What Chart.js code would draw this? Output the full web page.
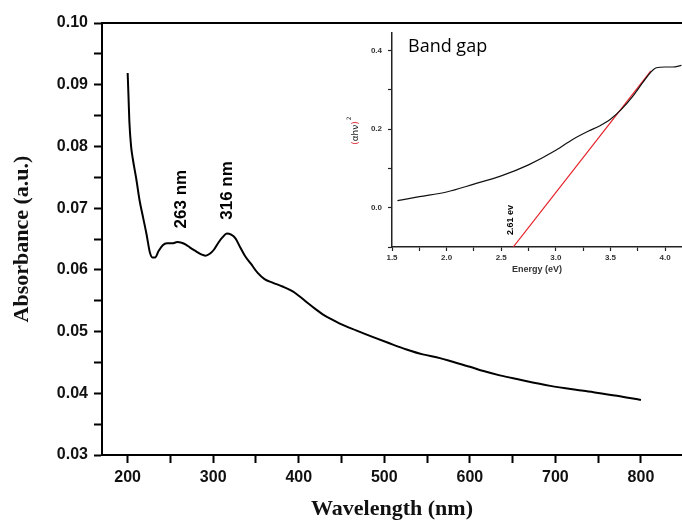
<!DOCTYPE html>
<html>
<head>
<meta charset="utf-8">
<script src="https://cdn.jsdelivr.net/npm/chart.js@4/dist/chart.umd.min.js"></script>
<style>
  html, body { margin: 0; padding: 0; background: #fff; }
  #wrap { position: relative; width: 682px; height: 521px; overflow: hidden; }
  #mainChart { position: absolute; left: 0; top: 0; }
  #insetChart { position: absolute; left: 330px; top: 22px; }
</style>
</head>
<body>
<div id="wrap">
  <canvas id="mainChart" width="682" height="521"></canvas>
  <canvas id="insetChart" width="352" height="258"></canvas>
</div>
<script>
// ── Main spectrum ─────────────────────────────────────────────────────────
const wavelength = [200, 201, 202, 204, 206, 210, 214, 218, 222, 226, 229, 232, 236, 241, 246,
  252, 258, 263, 268, 273, 280, 286, 291, 296, 301, 306, 311, 316, 321, 326, 331, 337, 344,
  352, 360, 370, 381, 393, 400, 409, 420, 428, 438, 448, 467, 487, 506, 526, 545, 565, 580,
  600, 616, 635, 655, 694, 733, 772, 800];
const absorbance = [0.0919, 0.0880, 0.0840, 0.0800, 0.0780, 0.0748, 0.0712, 0.0685, 0.0658,
  0.0628, 0.0620, 0.0620, 0.0630, 0.0640, 0.0643, 0.0643, 0.0645, 0.0644, 0.0641, 0.0636,
  0.0630, 0.0625, 0.0623, 0.0626, 0.0633, 0.0644, 0.0653, 0.0659, 0.0657, 0.0651, 0.0638,
  0.0623, 0.0610, 0.0595, 0.0585, 0.0579, 0.0573, 0.0565, 0.0558, 0.0548, 0.0536, 0.0528,
  0.0520, 0.0513, 0.0502, 0.0491, 0.0481, 0.0471, 0.0463, 0.0457, 0.0451, 0.0443, 0.0436,
  0.0429, 0.0423, 0.0412, 0.0404, 0.0396, 0.0389];
const xTicksMain = [200, 250, 300, 350, 400, 450, 500, 550, 600, 650, 700, 750, 800];
const yTicksMain = [0.03, 0.035, 0.04, 0.045, 0.05, 0.055, 0.06, 0.065, 0.07, 0.075, 0.08, 0.085, 0.09, 0.095, 0.10];
const peakLabels = ['263 nm', '316 nm'];
const peakWl     = [263, 316];
const peakAbs    = [0.0645, 0.0659];

// ── Inset: band gap ───────────────────────────────────────────────────────
const energy = [1.55, 1.75, 2.0, 2.25, 2.5, 2.75, 3.0, 3.15, 3.3, 3.4, 3.5, 3.6, 3.7, 3.8,
  3.87, 3.92, 4.0, 4.07, 4.15];
const ahv2 = [0.018, 0.028, 0.040, 0.060, 0.081, 0.109, 0.146, 0.173, 0.195, 0.208, 0.225,
  0.250, 0.282, 0.320, 0.345, 0.356, 0.358, 0.358, 0.362];
const fitEnergy = [2.61, 3.87];
const fitValue  = [-0.1, 0.348];
const xTicksInset = [1.5, 1.75, 2.0, 2.25, 2.5, 2.75, 3.0, 3.25, 3.5, 3.75, 4.0];
const yTicksInset = [-0.1, 0.0, 0.1, 0.2, 0.3, 0.4];

const pts = (xs, ys) => xs.map((x, i) => ({ x, y: ys[i] }));

// top frame line + rotated peak labels
const mainDecor = {
  id: 'mainDecor',
  afterDraw(chart) {
    const { ctx, chartArea: a, scales } = chart;
    ctx.save();
    ctx.strokeStyle = '#000';
    ctx.lineWidth = 2;
    ctx.beginPath();
    ctx.moveTo(a.left - 1, a.top);
    ctx.lineTo(a.right, a.top);
    ctx.stroke();

    ctx.fillStyle = '#000';
    ctx.font = 'bold 17px "Liberation Sans", Arial, sans-serif';
    ctx.textAlign = 'center';
    ctx.textBaseline = 'middle';
    peakLabels.forEach((t, i) => {
      const px = scales.x.getPixelForValue(peakWl[i]);
      const py = scales.y.getPixelForValue(peakAbs[i]) - 43;
      ctx.save();
      ctx.translate(px, py);
      ctx.rotate(-Math.PI / 2);
      ctx.fillText(t, 0, 0);
      ctx.restore();
    });
    ctx.restore();
  },
};

new Chart(document.getElementById('mainChart'), {
  type: 'line',
  data: {
    datasets: [{
      data: pts(wavelength, absorbance),
      borderColor: '#000',
      borderWidth: 2,
      pointRadius: 0,
      cubicInterpolationMode: 'monotone',
    }],
  },
  options: {
    responsive: false,
    animation: false,
    events: [],
    layout: { padding: { top: 23, right: 0, left: 0, bottom: 0 } },
    plugins: { legend: { display: false }, tooltip: { enabled: false } },
    scales: {
      x: {
        type: 'linear',
        min: 170,
        max: 848,
        afterBuildTicks: ax => { ax.ticks = xTicksMain.map(v => ({ value: v })); },
        afterFit: ax => { ax.height = 66; },
        grid: { drawOnChartArea: false, tickLength: 8, tickWidth: 2, tickColor: '#000' },
        border: { display: true, color: '#000', width: 2 },
        ticks: {
          color: '#111',
          padding: 5,
          maxRotation: 0,
          font: { family: '"Liberation Sans", Arial, sans-serif', size: 16, weight: 'bold' },
          callback: v => (v % 100 === 0 ? String(v) : ''),
        },
        title: {
          display: true,
          text: 'Wavelength (nm)',
          color: '#111',
          padding: { top: 0, bottom: -2 },
          font: { family: '"Liberation Serif", "Times New Roman", serif', size: 22, weight: 'bold' },
        },
      },
      y: {
        min: 0.03,
        max: 0.10,
        afterBuildTicks: ax => { ax.ticks = yTicksMain.map(v => ({ value: v })); },
        afterFit: ax => { ax.width = 102; },
        grid: { drawOnChartArea: false, tickLength: 8, tickWidth: 2, tickColor: '#000' },
        border: { display: true, color: '#000', width: 2 },
        ticks: {
          color: '#111',
          padding: 6,
          font: { family: '"Liberation Sans", Arial, sans-serif', size: 16, weight: 'bold' },
          callback: v => (Math.round(v * 1000) % 10 === 0 ? v.toFixed(2) : ''),
        },
        title: {
          display: true,
          text: 'Absorbance (a.u.)',
          color: '#111',
          padding: { top: 9, bottom: 0 },
          font: { family: '"Liberation Serif", "Times New Roman", serif', size: 22, weight: 'bold' },
        },
      },
    },
  },
  plugins: [mainDecor],
});

// inset texts: "Band gap", "2.61 ev", (αhν)² axis title
const insetDecor = {
  id: 'insetDecor',
  afterDraw(chart) {
    const { ctx, scales } = chart;
    ctx.save();
    ctx.fillStyle = '#000';
    ctx.textBaseline = 'alphabetic';
    ctx.textAlign = 'left';
    ctx.font = '18px "Open Sans", sans-serif';
    ctx.fillText('Band gap', 78, 30);

    // intercept label
    ctx.font = 'bold 9px "Liberation Sans", Arial, sans-serif';
    ctx.textAlign = 'center';
    ctx.textBaseline = 'middle';
    ctx.save();
    ctx.translate(scales.x.getPixelForValue(fitEnergy[0]) - 3, 198);
    ctx.rotate(-Math.PI / 2);
    ctx.fillText('2.61 ev', 0, 0);
    ctx.restore();

    // y axis title with red brackets
    ctx.save();
    ctx.translate(26, 111);
    ctx.rotate(-Math.PI / 2);
    ctx.font = '9px "DejaVu Sans", sans-serif';
    ctx.textAlign = 'left';
    const parts = [['(', '#e0303a'], ['αhν', '#222'], [')', '#e0303a']];
    const total = parts.reduce((s, p) => s + ctx.measureText(p[0]).width, 0);
    let xx = -total / 2;
    parts.forEach(([t, c]) => {
      ctx.fillStyle = c;
      ctx.fillText(t, xx, 0);
      xx += ctx.measureText(t).width;
    });
    ctx.fillStyle = '#222';
    ctx.font = '6px "DejaVu Sans", sans-serif';
    ctx.fillText('2', xx + 1, -7);
    ctx.restore();
    ctx.restore();
  },
};

const insetTickFont = { family: '"Liberation Sans", Arial, sans-serif', size: 8, weight: 'bold' };

new Chart(document.getElementById('insetChart'), {
  type: 'line',
  data: {
    datasets: [
      {
        data: pts(energy, ahv2),
        borderColor: '#111',
        borderWidth: 1.2,
        pointRadius: 0,
        cubicInterpolationMode: 'monotone',
      },
      {
        data: pts(fitEnergy, fitValue),
        borderColor: '#e41e26',
        borderWidth: 1.2,
        pointRadius: 0,
      },
    ],
  },
  options: {
    responsive: false,
    animation: false,
    events: [],
    layout: { padding: { top: 4, right: 0, left: 0, bottom: 0 } },
    plugins: { legend: { display: false }, tooltip: { enabled: false } },
    scales: {
      x: {
        type: 'linear',
        min: 1.5,
        max: 4.155,
        afterBuildTicks: ax => { ax.ticks = xTicksInset.map(v => ({ value: v })); },
        afterFit: ax => { ax.height = 33; },
        grid: { drawOnChartArea: false, tickLength: 4, tickWidth: 1.2, tickColor: '#222' },
        border: { display: true, color: '#222', width: 1.5 },
        ticks: {
          color: '#333',
          padding: 2,
          maxRotation: 0,
          font: insetTickFont,
          callback: v => (Math.round(v * 100) % 50 === 0 ? v.toFixed(1) : ''),
        },
        title: {
          display: true,
          text: 'Energy (eV)',
          color: '#333',
          padding: { top: 0, bottom: 5 },
          font: { family: '"Liberation Sans", Arial, sans-serif', size: 9, weight: 'bold' },
        },
      },
      y: {
        min: -0.1,
        max: 0.445,
        afterBuildTicks: ax => { ax.ticks = yTicksInset.map(v => ({ value: v })); },
        afterFit: ax => { ax.width = 62; },
        grid: { drawOnChartArea: false, tickLength: 4, tickWidth: 1.2, tickColor: '#222' },
        border: { display: true, color: '#222', width: 1.5 },
        ticks: {
          color: '#333',
          padding: 6,
          font: insetTickFont,
          callback: v => (Math.round(v * 10) % 2 === 0 ? v.toFixed(1) : ''),
        },
      },
    },
  },
  plugins: [insetDecor],
});
</script>
</body>
</html>
